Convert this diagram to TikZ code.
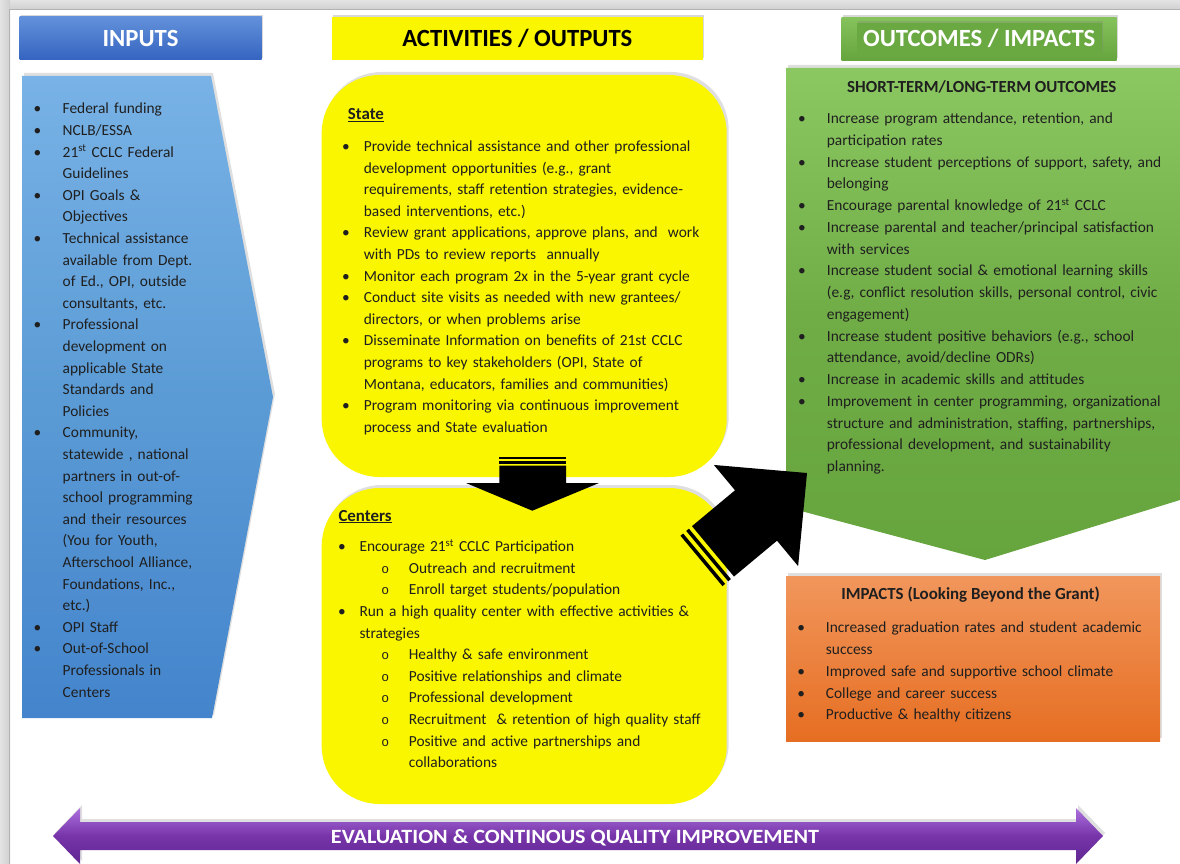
\documentclass[tikz,border=0pt]{standalone}
\usepackage{fontspec}
\usepackage{graphicx}
\setmainfont{Carlito}
\newfontfamily\circfont{Liberation Mono}
\usetikzlibrary{shadows}

\definecolor{hdrtop}{RGB}{98,144,218}
\definecolor{hdrbot}{RGB}{52,100,192}
\definecolor{intop}{RGB}{120,178,230}
\definecolor{inmid}{RGB}{91,155,213}
\definecolor{inbot}{RGB}{68,132,204}
\definecolor{actyel}{RGB}{250,246,0}
\definecolor{grtop}{RGB}{140,200,98}
\definecolor{grmid}{RGB}{112,173,71}
\definecolor{grbot}{RGB}{102,164,62}
\definecolor{grtext}{RGB}{106,168,66}
\definecolor{ortop}{RGB}{241,150,92}
\definecolor{orbot}{RGB}{230,110,34}
\definecolor{pptop}{RGB}{172,112,222}
\definecolor{ppmid}{RGB}{118,52,168}
\definecolor{ppbot}{RGB}{96,38,146}

% list lines: #1 = hang, #2 = text (break lines with \newline)
\newcommand{\bitem}[2]{\hangindent=#1\hangafter=1\noindent\rule{0pt}{13pt}\makebox[#1][l]{\textbullet}#2\par}
% second level: #1 = shift, #2 = hang, #3 = text
\newcommand{\oitem}[3]{\hangindent=\dimexpr#1+#2\relax\hangafter=1\noindent\rule{0pt}{13pt}\hspace*{#1}\makebox[#2][l]{\fontsize{13}{13}\circfont o}#3\par}

\tikzset{
  hdrbox/.style={minimum height=43, inner sep=0, text height=16, text depth=0,
    font=\fontsize{24.7}{28}\selectfont\bfseries,
    drop shadow={shadow xshift=1.5, shadow yshift=-2, opacity=.3}},
  listtext/.style={anchor=north west, inner sep=0, text width=430, align=left,
    font=\fontsize{15.4}{21.6}\selectfont, text=black!88},
  subhead/.style={inner sep=0, font=\fontsize{16.9}{20}\selectfont\bfseries, text=black!88},
  yelbox/.style={fill=actyel, rounded corners=58, minimum width=405, inner sep=0,
    drop shadow={shadow xshift=2, shadow yshift=-3, opacity=.25}},
  panel/.style={drop shadow={shadow xshift=2, shadow yshift=-3, opacity=.25}},
}

\begin{document}
\begin{tikzpicture}[x=1pt,y=-1pt]
	\useasboundingbox (0,0) rectangle (1180,864);
	\fill[white] (0,0) rectangle (1180,864);

	%page edge
	\shade[top color=gray!22, bottom color=gray!38] (0,0) rectangle (1180,10);
	\shade[left color=gray!22, right color=gray!38] (0,0) rectangle (10,864);
	\draw[gray!60, line width=1.5] (9.5,864) -- (9.5,9.5) -- (1180,9.5);

	%column headers
	\node[hdrbox, top color=hdrtop, bottom color=hdrbot, minimum width=242, text=white] (inhdr) at (140.5,38.5) {INPUTS};
	\node[hdrbox, fill=actyel, minimum width=371] (acthdr) at (517.3,38.5) {ACTIVITIES / OUTPUTS};
	\node[hdrbox, top color=grtop!80!grmid, bottom color=grbot, minimum width=275] (outhdr) at (979.2,38.7) {};
	\node[hdrbox, fill=grtext, minimum width=245, minimum height=31, text=white, drop shadow={opacity=0}] (outtitle) at (979.2,38.4) {OUTCOMES / IMPACTS};

	%inputs arrow
	\path[panel, top color=intop, bottom color=inbot, middle color=inmid]
		(22,76) -- (211,76) -- (273,397) -- (212,718) -- (22,718) -- cycle;

	%activities boxes
	\node[yelbox, minimum height=402] (statebox) at (524.2,276) {};
	\node[yelbox, minimum height=316] (centerbox) at (524.2,646) {};

	%outcomes arrow
	\path[panel, top color=grtop, bottom color=grbot, middle color=grmid]
		(786,68) -- (1180,68) -- (1180,500) -- (985,560) -- (786,507) -- cycle;

	%impacts box
	\node[panel, top color=ortop, bottom color=orbot, minimum width=374, minimum height=165, inner sep=0] (impbox) at (973,658.7) {};

	%evaluation arrow
	\path[panel, top color=pptop, bottom color=ppbot, middle color=ppmid]
		(53,836) -- (80,808) -- (80,822) -- (1076,822) -- (1076,808) -- (1103,836)
		-- (1076,864) -- (1076,850) -- (80,850) -- (80,864) -- cycle;
	\node[text=white, anchor=base] (evaltext) at (575,843)
		{\resizebox{488pt}{14pt}{\bfseries EVALUATION \& CONTINOUS QUALITY IMPROVEMENT}};

	%state -> centers arrow
	\fill[black] (499.3,465.5) -- (566,465.5) -- (566,483) -- (599,483) -- (532.3,510.7)
		-- (466,483) -- (499.3,483) -- cycle;
	\fill[black] (499.3,456.5) rectangle (566,459);		%stripes
	\fill[black] (499.3,461) rectangle (566,463.5);

	%centers -> outcomes arrow
	\begin{scope}[shift={(756,515.5)}, rotate=39.8]
		\fill[black] (0,-65.8) -- (66.4,0) -- (0,65.8) -- (0,32.8) -- (-56,32.8)
			-- (-56,-32.8) -- (0,-32.8) -- cycle;
		\fill[black] (-63.5,-32.8) rectangle (-60,32.8);	%stripes
		\fill[black] (-71,-32.8) rectangle (-67.5,32.8);
	\end{scope}

	%inputs
	\node[listtext] (inlist) at (33.5,100.7) {%
		\bitem{29pt}{Federal funding}
		\bitem{29pt}{NCLB/ESSA}
		\bitem{29pt}{21\textsuperscript{st} CCLC Federal\newline Guidelines}
		\bitem{29pt}{OPI Goals \&\newline Objectives}
		\bitem{29pt}{Technical assistance\newline available from Dept.\newline of Ed., OPI, outside\newline consultants, etc.}
		\bitem{29pt}{Professional\newline development on\newline applicable State\newline Standards and\newline Policies}
		\bitem{29pt}{Community,\newline statewide , national\newline partners in out-of-\newline school programming\newline and their resources\newline (You for Youth,\newline Afterschool Alliance,\newline Foundations, Inc.,\newline etc.)}
		\bitem{29pt}{OPI Staff}
		\bitem{29pt}{Out-of-School\newline Professionals in\newline Centers}};

	%state
	\node[subhead, anchor=base west] (statehead) at (347.7,120) {\underline{State}};
	\node[listtext] (statelist) at (342,138.3) {%
		\bitem{21.7pt}{Provide technical assistance and other professional\newline development opportunities (e.g., grant\newline requirements, staff retention strategies, evidence-\newline based interventions, etc.)}
		\bitem{21.7pt}{Review grant applications, approve plans, and\ \ work\newline with PDs to review reports\ \ annually}
		\bitem{21.7pt}{Monitor each program 2x in the 5-year grant cycle}
		\bitem{21.7pt}{Conduct site visits as needed with new grantees/\newline directors, or when problems arise}
		\bitem{21.7pt}{Disseminate Information on benefits of 21st CCLC\newline programs to key stakeholders (OPI, State of\newline Montana, educators, families and communities)}
		\bitem{21.7pt}{Program monitoring via continuous improvement\newline process and State evaluation}};

	%centers
	\node[subhead, anchor=base west] (centerhead) at (338.3,521) {\underline{Centers}};
	\node[listtext] (centerlist) at (337.8,538.5) {%
		\bitem{21.5pt}{Encourage 21\textsuperscript{st} CCLC Participation}
		\oitem{43.3pt}{27.6pt}{Outreach and recruitment}
		\oitem{43.3pt}{27.6pt}{Enroll target students/population}
		\bitem{21.5pt}{Run a high quality center with effective activities \&\newline strategies}
		\oitem{43.3pt}{27.6pt}{Healthy \& safe environment}
		\oitem{43.3pt}{27.6pt}{Positive relationships and climate}
		\oitem{43.3pt}{27.6pt}{Professional development}
		\oitem{43.3pt}{27.6pt}{Recruitment\ \ \& retention of high quality staff}
		\oitem{43.3pt}{27.6pt}{Positive and active partnerships and\newline collaborations}};

	%outcomes
	\node[subhead, anchor=base] (outhead) at (981.8,92.5) {SHORT-TERM/LONG-TERM OUTCOMES};
	\node[listtext, font=\fontsize{15.4}{21.75}\selectfont] (outlist) at (797.8,110.4) {%
		\bitem{28.9pt}{Increase program attendance, retention, and\newline participation rates}
		\bitem{28.9pt}{Increase student perceptions of support, safety, and\newline belonging}
		\bitem{28.9pt}{Encourage parental knowledge of 21\textsuperscript{st} CCLC}
		\bitem{28.9pt}{Increase parental and teacher/principal satisfaction\newline with services}
		\bitem{28.9pt}{Increase student social \& emotional learning skills\newline (e.g, conflict resolution skills, personal control, civic\newline engagement)}
		\bitem{28.9pt}{Increase student positive behaviors (e.g., school\newline attendance, avoid/decline ODRs)}
		\bitem{28.9pt}{Increase in academic skills and attitudes}
		\bitem{28.9pt}{Improvement in center programming, organizational\newline structure and administration, staffing, partnerships,\newline professional development, and sustainability\newline planning.}};

	%impacts
	\node[subhead, anchor=base] (imphead) at (970.5,599.5) {IMPACTS (Looking Beyond the Grant)};
	\node[listtext, font=\fontsize{15.4}{21.8}\selectfont] (implist) at (797.1,619.4) {%
		\bitem{28.6pt}{Increased graduation rates and student academic\newline success}
		\bitem{28.6pt}{Improved safe and supportive school climate}
		\bitem{28.6pt}{College and career success}
		\bitem{28.6pt}{Productive \& healthy citizens}};
\end{tikzpicture}
\end{document}
